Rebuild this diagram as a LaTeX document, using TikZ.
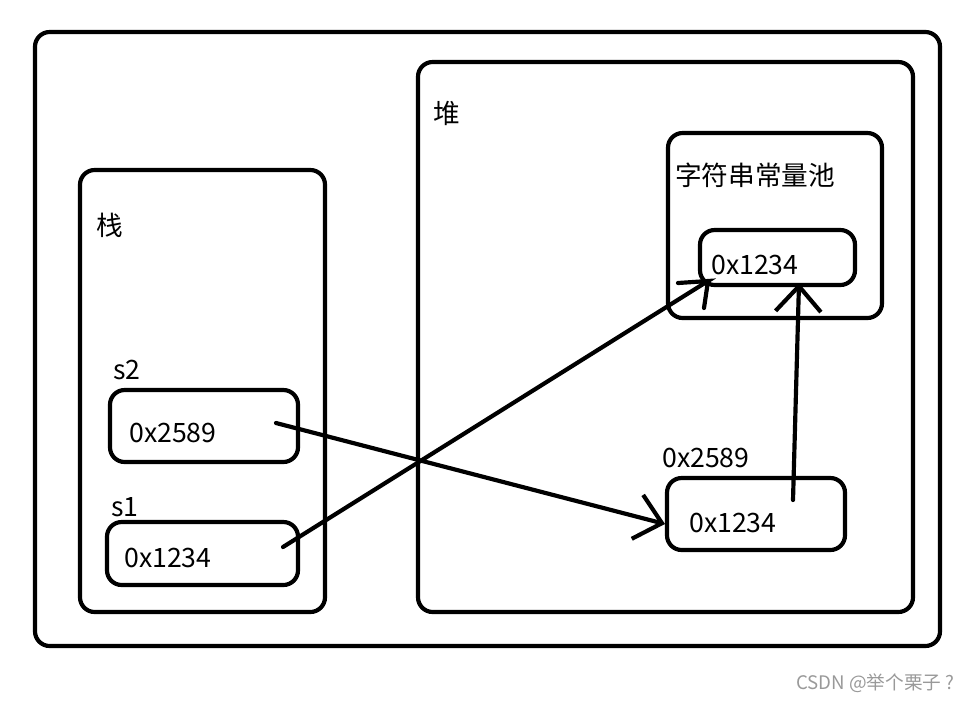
\documentclass[tikz,border=0pt]{standalone}
\usepackage{fontspec}
\setmainfont{Noto Sans CJK SC}
\usetikzlibrary{fit}
\usetikzlibrary{arrows.meta}

\begin{document}
\begin{tikzpicture}[x=0.75pt,y=-0.75pt,
    box/.style={draw,line width=1.1mm,rounded corners=11pt,inner sep=0pt},
    txt/.style={anchor=west,inner sep=0pt,font=\fontsize{20}{23}\selectfont},
    link/.style={line width=1.1mm,line cap=round,-{Straight Barb[length=19pt,width=34pt,line width=1.1mm]}}]
      \useasboundingbox (0,0) rectangle (977,701);
      \node[box,fit={(35,32) (940,646)}] (mem) {};
      \node[box,fit={(80,170) (325,612)}] (stack) {};
      \node[box,fit={(418,62) (913,612)}] (heap) {};
      \node[box,fit={(668,133) (882,318)}] (pool) {};
      \node[box,fit={(700,230) (855,285)}] (poolbox) {};
      \node[box,fit={(110,390) (298,462)}] (s2box) {};
      \node[box,fit={(107,522) (298,585)}] (s1box) {};
      \node[box,fit={(667,478) (845,550)}] (objbox) {};
      \node[txt] (stacklbl) at (96,225) {栈};
      \node[txt] (heaplbl) at (433,113) {堆};
      \node[txt] (poollbl) at (675,175) {字符串常量池};
      \node[txt] (poolnum) at (711,265) {0x1234};
      \node[txt] (s2lbl) at (113,370) {s2};
      \node[txt] (s2num) at (129,433) {0x2589};
      \node[txt] (s1lbl) at (111,507) {s1};
      \node[txt] (s1num) at (124,558) {0x1234};
      \node[txt] (objlbl) at (662,458) {0x2589};
      \node[txt] (objnum) at (689,523) {0x1234};
      \node[anchor=west,inner sep=0pt,text=gray!80,font=\fontsize{14}{16}\selectfont] (mark) at (796,683) {CSDN @举个栗子 ?};
      \coordinate (s2ptr) at (276,423);
      \coordinate (s1ptr) at (283,547);
      \coordinate (objptr) at (793,500);
      \coordinate (objtip) at (665,524);
      \coordinate (pooltip) at (708,281);
      \coordinate (pooltop) at (799,283);
      \draw [link] (s2ptr) -- (objtip);
      \draw [link] (objptr) -- (pooltop);
      \draw [line width=1.1mm,line cap=round] (s1ptr) -- (pooltip) -- ++(-30,2) (pooltip) -- ++(-4,27);
    \end{tikzpicture}
\end{document}
